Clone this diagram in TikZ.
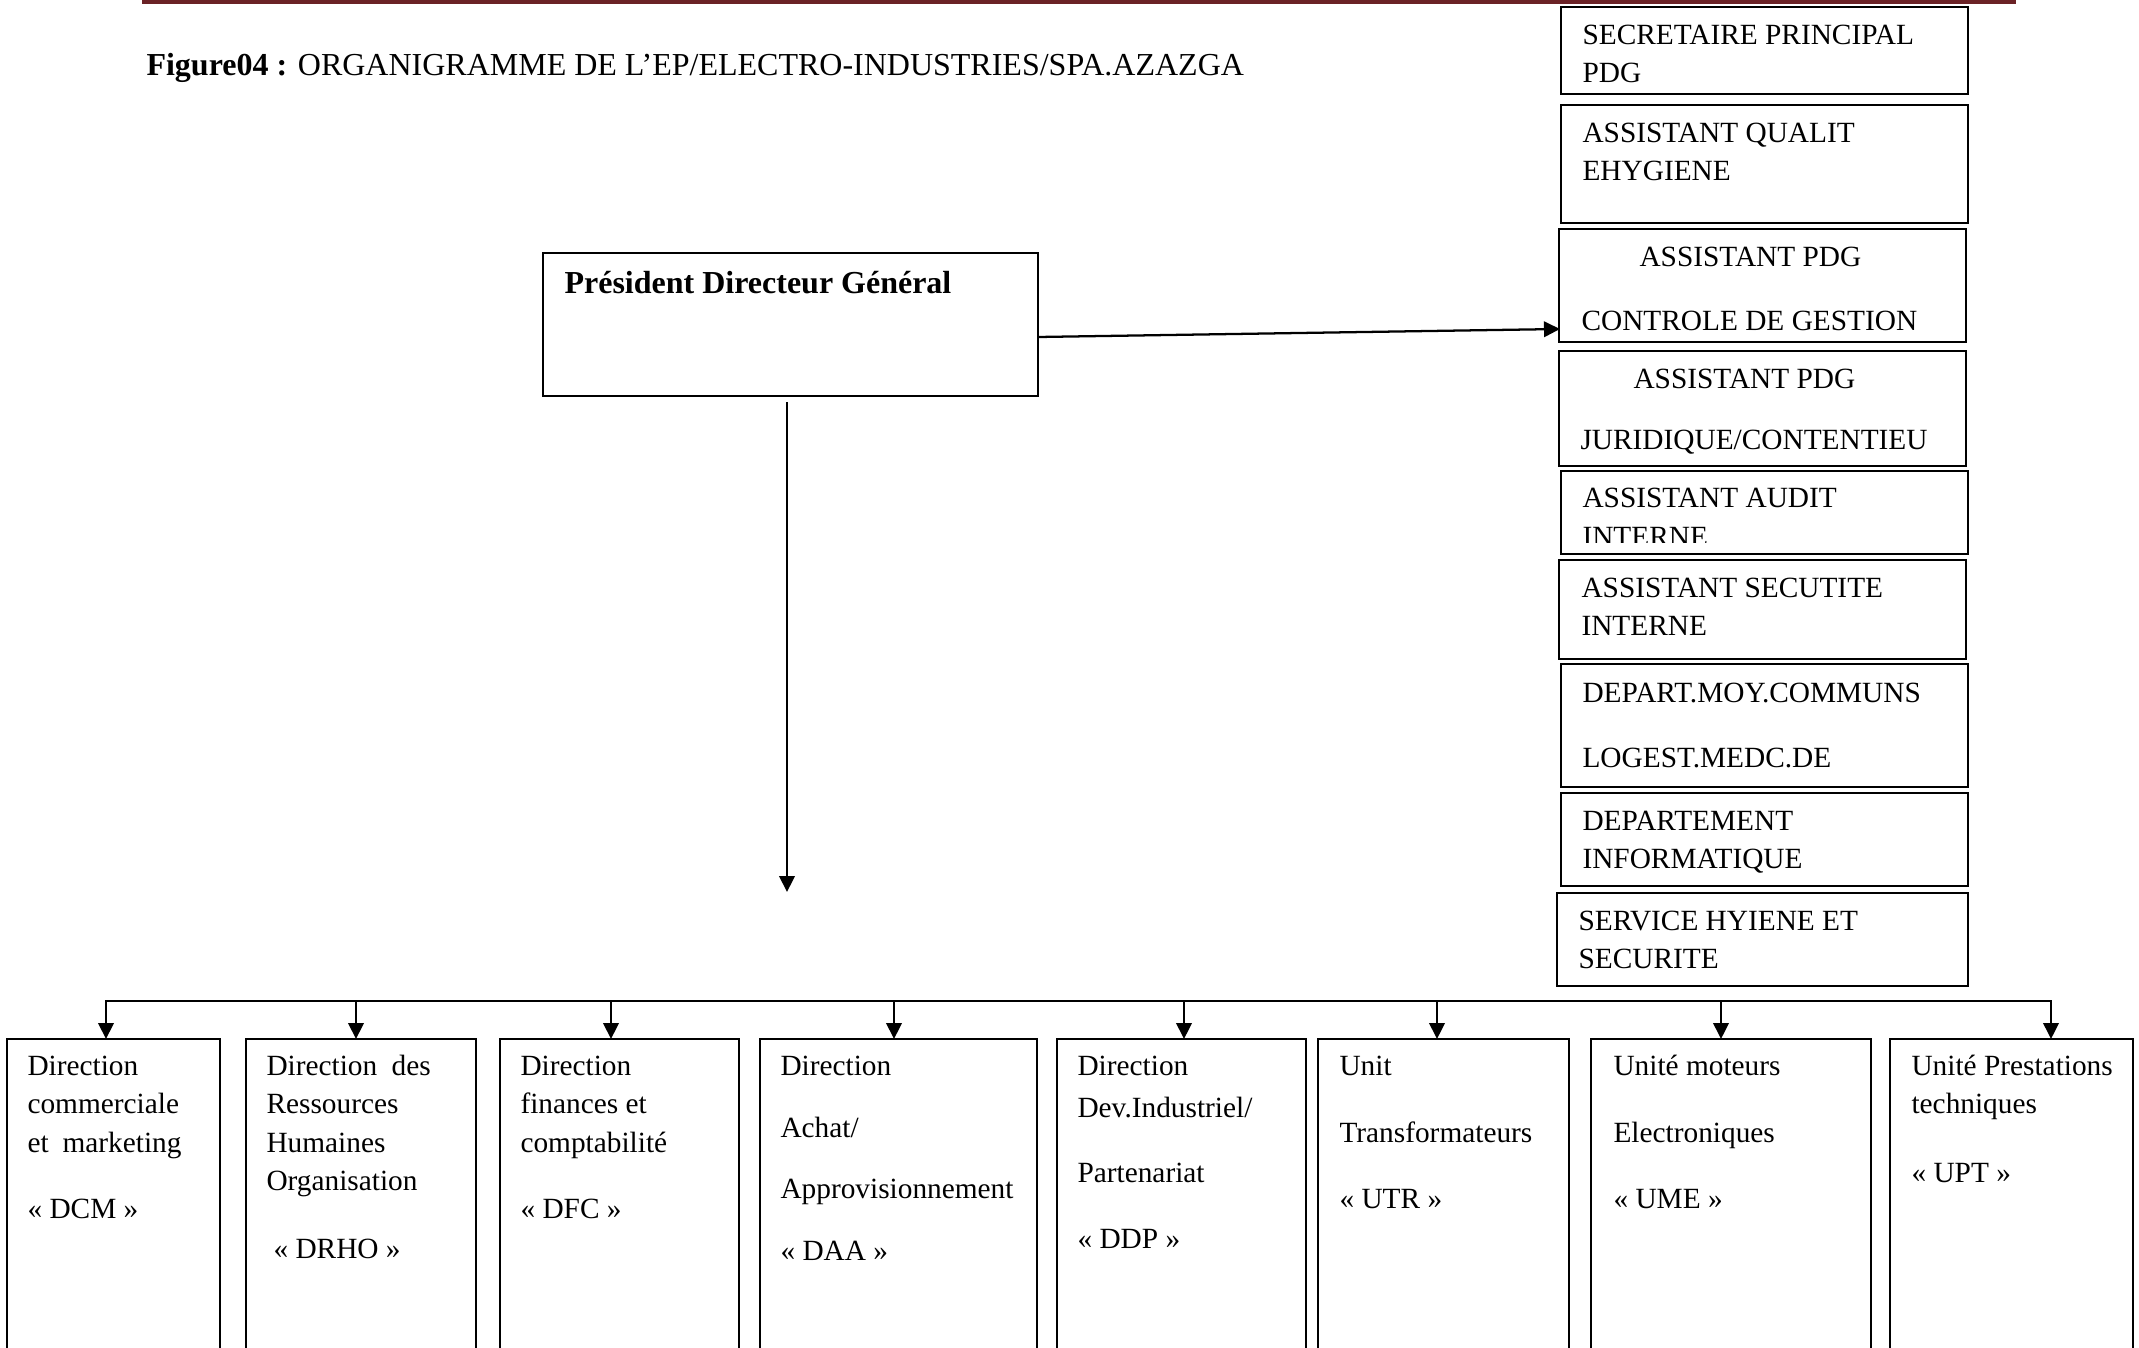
\documentclass[tikz,border=0pt]{standalone}
\usepackage{fontspec}
\setmainfont{Liberation Serif}
\usetikzlibrary{arrows.meta}
\definecolor{barred}{HTML}{6B2226}
\newcommand\mkbox[5]{\node[bx, minimum width={(#4-#2)*0.375pt}, minimum height={(#5-#3)*0.375pt}] (#1) at (#2,#3) {};}
\begin{document}
\begin{tikzpicture}[x=0.375pt,y=-0.375pt,
  bx/.style={draw, line width=0.75pt, inner sep=0pt, outer sep=0pt, anchor=north west},
  txt/.style={anchor=base west, inner sep=0pt, font=\fontsize{11}{13}\selectfont},
  bigtxt/.style={anchor=base west, inner sep=0pt, font=\fontsize{12}{14}\selectfont},
  conn/.style={line width=0.85pt, -{Triangle[length=6pt,width=5.8pt]}},
  link/.style={line width=0.85pt}]
\useasboundingbox (0,0) rectangle (2139,1348);
\clip (0,0) rectangle (2139,1348);
\fill[barred] (142,0) rectangle (2016,4);
% title
\node[bigtxt] (title) at (146,76) {\textbf{Figure04 :} ORGANIGRAMME DE L’EP/ELECTRO-INDUSTRIES/SPA.AZAZGA};
% PDG
\mkbox{pdg}{543}{253}{1038}{396}
\node[bigtxt, font=\fontsize{12}{14}\selectfont\bfseries] (pdgt) at (564,293) {Président Directeur Général};
% right column
\mkbox{r1}{1561}{7}{1968}{94}
\mkbox{r2}{1561}{105}{1968}{223}
\mkbox{r3}{1559}{229}{1966}{342}
\mkbox{r4}{1559}{351}{1966}{466}
\mkbox{r5}{1561}{471}{1968}{554}
\mkbox{r6}{1559}{560}{1966}{659}
\mkbox{r7}{1561}{664}{1968}{787}
\mkbox{r8}{1561}{793}{1968}{886}
\mkbox{r9}{1557}{893}{1968}{986}
\node[txt] (r1a) at (1582,45) {SECRETAIRE PRINCIPAL};
\node[txt] (r1b) at (1582,83) {PDG};
\node[txt] (r2a) at (1582,143) {ASSISTANT QUALIT};
\node[txt] (r2b) at (1582,181) {EHYGIENE};
\node[txt] (r3a) at (1639,266) {ASSISTANT PDG};
\node[txt] (r3b) at (1581,330) {CONTROLE DE GESTION};
\node[txt] (r4a) at (1633,388) {ASSISTANT PDG};
\node[txt] (r4b) at (1580,449) {JURIDIQUE/CONTENTIEU};
\node[txt] (r5a) at (1582,507) {ASSISTANT AUDIT};
\begin{scope}
\clip (1561,471) rectangle (1968,542);
\node[txt] (r5b) at (1582,546) {INTERNE};
\end{scope}
\node[txt] (r6a) at (1581,597) {ASSISTANT SECUTITE};
\node[txt] (r6b) at (1581,635) {INTERNE};
\node[txt] (r7a) at (1582,702) {DEPART.MOY.COMMUNS};
\node[txt] (r7b) at (1582,767) {LOGEST.MEDC.DE};
\node[txt] (r8a) at (1582,830) {DEPARTEMENT};
\node[txt] (r8b) at (1582,868) {INFORMATIQUE};
\node[txt] (r9a) at (1578,930) {SERVICE HYIENE ET};
\node[txt] (r9b) at (1578,968) {SECURITE};
% bottom row
\mkbox{dcm}{7}{1039}{220}{1400}
\mkbox{drho}{246}{1039}{476}{1400}
\mkbox{dfc}{500}{1039}{739}{1400}
\mkbox{daa}{760}{1039}{1037}{1400}
\mkbox{ddp}{1057}{1039}{1306}{1400}
\mkbox{utr}{1318}{1039}{1569}{1400}
\mkbox{ume}{1591}{1039}{1871}{1400}
\mkbox{upt}{1890}{1039}{2133}{1400}
\node[txt] (dcm1) at (27,1075) {Direction};
\node[txt] (dcm2) at (27,1113) {commerciale};
\node[txt] (dcm3) at (27,1152) {et\hspace{5.2pt}marketing};
\node[txt] (dcm4) at (27,1218) {« DCM »};
\node[txt] (drho1) at (266,1075) {Direction\hspace{5.4pt}des};
\node[txt] (drho2) at (266,1113) {Ressources};
\node[txt] (drho3) at (266,1152) {Humaines};
\node[txt] (drho4) at (266,1190) {Organisation};
\node[txt] (drho5) at (273,1258) {« DRHO »};
\node[txt] (dfc1) at (520,1075) {Direction};
\node[txt] (dfc2) at (520,1113) {finances et};
\node[txt] (dfc3) at (520,1152) {comptabilité};
\node[txt] (dfc4) at (520,1218) {« DFC »};
\node[txt] (daa1) at (780,1075) {Direction};
\node[txt] (daa2) at (780,1137) {Achat/};
\node[txt] (daa3) at (780,1198) {Approvisionnement};
\node[txt] (daa4) at (780,1260) {« DAA »};
\node[txt] (ddp1) at (1077,1075) {Direction};
\node[txt] (ddp2) at (1077,1117) {Dev.Industriel/};
\node[txt] (ddp3) at (1077,1182) {Partenariat};
\node[txt] (ddp4) at (1077,1248) {« DDP »};
\node[txt] (utr1) at (1339,1075) {Unit};
\node[txt] (utr2) at (1339,1142) {Transformateurs};
\node[txt] (utr3) at (1339,1208) {« UTR »};
\node[txt] (ume1) at (1613,1075) {Unité moteurs};
\node[txt] (ume2) at (1613,1142) {Electroniques};
\node[txt] (ume3) at (1613,1208) {« UME »};
\node[txt] (upt1) at (1911,1075) {Unité Prestations};
\node[txt] (upt2) at (1911,1113) {techniques};
\node[txt] (upt3) at (1911,1182) {« UPT »};
% connectors
\coordinate (h1) at (1038,337);
\coordinate (h2) at (1560,329);
\draw[conn] (h1) -- (h2);
\coordinate (v1) at (787,402);
\coordinate (v2) at (787,892);
\draw[conn] (v1) -- (v2);
\coordinate (t1) at (106,1001);
\coordinate (t2) at (356,1001);
\coordinate (t3) at (611,1001);
\coordinate (t4) at (894,1001);
\coordinate (t5) at (1184,1001);
\coordinate (t6) at (1437,1001);
\coordinate (t7) at (1721,1001);
\coordinate (t8) at (2051,1001);
\draw[link, line cap=rect] (t1) -- (t8);
\draw[conn] (t1) -- (t1 |- dcm.north);
\draw[conn] (t2) -- (t2 |- drho.north);
\draw[conn] (t3) -- (t3 |- dfc.north);
\draw[conn] (t4) -- (t4 |- daa.north);
\draw[conn] (t5) -- (t5 |- ddp.north);
\draw[conn] (t6) -- (t6 |- utr.north);
\draw[conn] (t7) -- (t7 |- ume.north);
\draw[conn] (t8) -- (t8 |- upt.north);
\end{tikzpicture}
\end{document}
